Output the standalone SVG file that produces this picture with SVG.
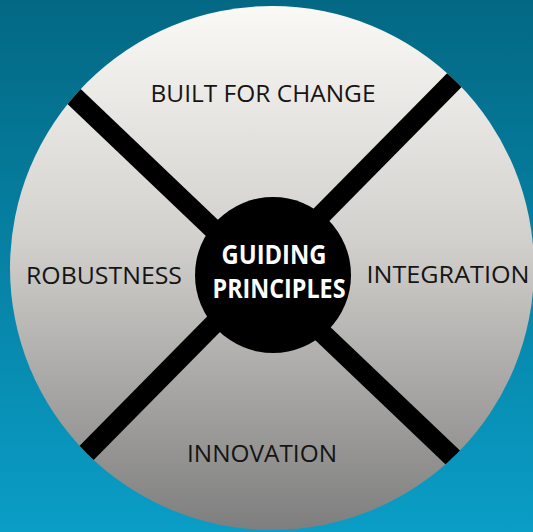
<svg xmlns="http://www.w3.org/2000/svg" width="533" height="532" viewBox="0 0 533 532">
<defs>
<linearGradient id="bg" x1="0" y1="0" x2="0" y2="1">
<stop offset="0" stop-color="#036884"/>
<stop offset="1" stop-color="#0a9dc6"/>
</linearGradient>
<linearGradient id="disc" x1="0" y1="0" x2="0" y2="1">
<stop offset="0" stop-color="#fbf9f5"/>
<stop offset="0.45" stop-color="#d2d0cc"/>
<stop offset="1" stop-color="#7e7e7e"/>
</linearGradient>
<clipPath id="discClip"><circle cx="272" cy="268" r="262"/></clipPath>
<style>
.lbl{font-family:"Open Sans","Liberation Sans",sans-serif;font-size:24px;fill:#151515;text-anchor:middle}
.hub{font-family:"Open Sans","Liberation Sans",sans-serif;font-size:27px;font-weight:bold;fill:#fff;text-anchor:middle}
.spoke{stroke:#000;stroke-width:20}
</style>
</defs>
<rect width="533" height="532" fill="url(#bg)"/>
<g id="disc-bg"><circle cx="272" cy="268" r="262" fill="url(#disc)"/></g>
<g id="connectors" clip-path="url(#discClip)">
<line class="spoke" x1="40" y1="64" x2="490" y2="493"/>
<line class="spoke" x1="490" y1="44" x2="50" y2="490"/>
</g>
<g id="built-for-change"><text class="lbl" x="263" y="102" textLength="225" lengthAdjust="spacingAndGlyphs">BUILT FOR CHANGE</text></g>
<g id="robustness"><text class="lbl" x="104" y="284" textLength="156" lengthAdjust="spacingAndGlyphs">ROBUSTNESS</text></g>
<g id="integration"><text class="lbl" x="448" y="283" textLength="163" lengthAdjust="spacingAndGlyphs">INTEGRATION</text></g>
<g id="innovation"><text class="lbl" x="262" y="462" textLength="150" lengthAdjust="spacingAndGlyphs">INNOVATION</text></g>
<g id="guiding-principles">
<circle cx="273" cy="275" r="78" fill="#000"/>
<text class="hub" x="274" y="264" textLength="105" lengthAdjust="spacingAndGlyphs">GUIDING</text>
<text class="hub" x="279" y="298" textLength="133" lengthAdjust="spacingAndGlyphs">PRINCIPLES</text>
</g>
</svg>
